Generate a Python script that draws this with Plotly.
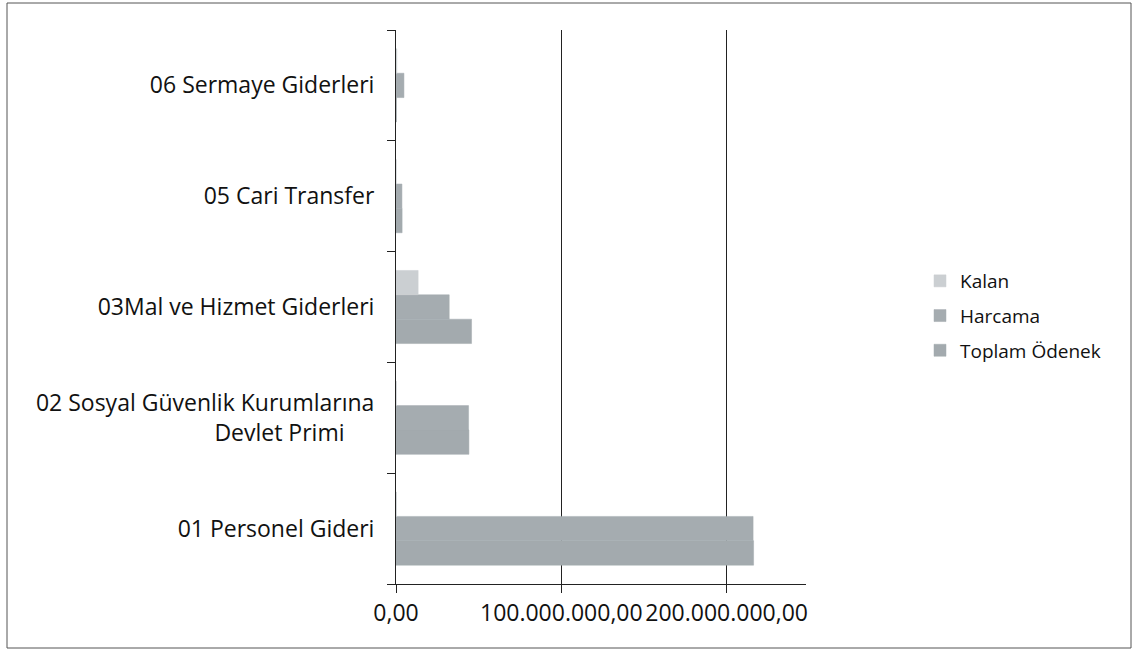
import plotly.graph_objects as go

# Budget by economic code (TL)
categories = [
    "01 Personel Gideri",
    "02 Sosyal Güvenlik Kurumlarına Devlet Primi",
    "03Mal ve Hizmet Giderleri",
    "05 Cari Transfer",
    "06 Sermaye Giderleri",
]
category_labels = [
    "01 Personel Gideri",
    "02 Sosyal Güvenlik Kurumlarına<br>Devlet Primi" + "\u00a0" * 5,
    "03Mal ve Hizmet Giderleri",
    "05 Cari Transfer",
    "06 Sermaye Giderleri",
]
toplam_odenek = [216_300_000, 44_100_000, 45_700_000, 3_700_000, 300_000]
harcama = [216_000_000, 43_900_000, 32_200_000, 3_600_000, 4_800_000]
kalan = [300_000, 250_000, 13_400_000, 150_000, 500_000]

W, H = 1136, 652
L, R, T, B = 396, 330, 30, 68
pw, ph = W - L - R, H - T - B

fig = go.Figure()
# (name, values, colour, legend position)
series = [
    ("Toplam Ödenek", toplam_odenek, "#a3aaae", 3),
    ("Harcama", harcama, "#a5acb0", 2),
    ("Kalan", kalan, "#cbcfd2", 1),
]
for i, (name, vals, color, rank) in enumerate(series):
    fig.add_trace(go.Bar(
        y=categories, x=vals, name=name, orientation="h",
        marker=dict(color=color, line=dict(color=color, width=0.5)),
        legendgroup=f"g{i}", legendrank=rank,
    ))

fig.update_layout(
    width=W, height=H,
    margin=dict(l=L, r=R, t=T, b=B, autoexpand=False),
    paper_bgcolor="white", plot_bgcolor="white",
    barmode="group", bargap=0.34, bargroupgap=0,
    separators=",.",
    font=dict(family="Open Sans", size=20, color="#111"),
    showlegend=True,
    legend=dict(
        x=(920 - L) / pw, xanchor="left",
        y=(H - B - 262) / ph, yanchor="top",
        traceorder="grouped", tracegroupgap=7,
        font=dict(size=19, color="#111"),
        bgcolor="rgba(0,0,0,0)",
    ),
    shapes=[dict(
        type="rect", xref="paper", yref="paper",
        x0=(7 - L) / pw, x1=(1131 - L) / pw,
        y0=(H - B - 648) / ph, y1=(H - B - 3) / ph,
        line=dict(color="#555", width=1), layer="below",
    )],
)

fig.update_xaxes(
    range=[0, 248_000_000],
    tickvals=[0, 100_000_000, 200_000_000],
    tickformat=",.2f",
    tickangle=0, automargin=False,
    showline=True, linecolor="#222", linewidth=1,
    ticks="outside", ticklen=8, tickcolor="#222",
    showgrid=True, gridcolor="#222", gridwidth=1,
    zeroline=False,
    tickfont=dict(size=23),
)
fig.update_yaxes(
    categoryorder="array", categoryarray=categories,
    tickvals=categories, ticktext=category_labels,
    tickson="boundaries", automargin=False,
    showline=True, linecolor="#222", linewidth=1,
    ticks="outside", ticklen=8, tickcolor="#222",
    showgrid=False, zeroline=False,
    tickfont=dict(size=23),
    ticklabelstandoff=16,
)

fig.write_html("out.html")
